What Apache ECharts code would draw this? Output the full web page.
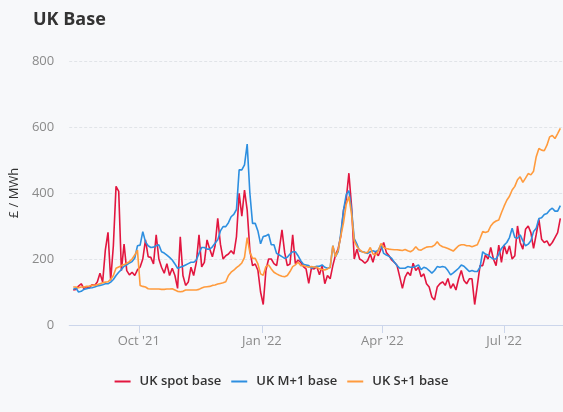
<!DOCTYPE html>
<html>
<head>
<meta charset="utf-8">
<script src="https://cdn.jsdelivr.net/npm/echarts@6/dist/echarts.min.js"></script>
<style>
html,body{margin:0;padding:0;background:#f7f8fa;}
#chart{width:563px;height:412px;}
</style>
</head>
<body>
<div id="chart"></div>
<script>
// Daily sampling: one reading every 2 days starting 13 Aug 2021
const startDate = Date.UTC(2021, 7, 13);
const stepDays = 2;
const axisStart = Date.UTC(2021, 7, 10);
const axisEnd = Date.UTC(2022, 7, 14);

const tickDates = ['2021-10-01', '2022-01-01', '2022-04-01', '2022-07-01'];
const tickLabels = ["Oct '21", "Jan '22", "Apr '22", "Jul '22"];
const seriesNames = ['UK spot base', 'UK M+1 base', 'UK S+1 base'];

const spotBase = [
106,108,118,125,110,116,112,122,120,130,
157,130,227,281,135,240,420,405,165,245,
165,152,160,150,167,176,200,258,207,205,
185,273,200,175,157,186,150,172,150,111,
267,150,120,130,175,150,190,273,176,190,
258,230,207,240,323,245,200,210,215,225,
215,268,399,330,409,348,227,180,185,166,
100,62,166,200,200,186,180,230,288,220,
180,185,273,186,197,190,177,170,126,172,
170,177,152,179,125,150,140,180,212,232,
270,348,380,460,360,200,230,200,195,187,
195,215,190,222,210,230,250,220,210,197,
190,180,146,111,145,160,150,187,165,175,
146,155,125,115,85,76,115,125,131,120,
141,111,125,106,140,165,135,125,140,140,
62,120,180,180,212,200,235,200,180,242,
190,242,215,240,200,210,300,250,230,290,
300,280,232,275,320,260,250,255,240,250,
265,280,323
];

const m1Base = [
108,112,100,102,108,110,112,113,115,118,
120,122,125,125,130,138,150,160,168,178,
182,188,192,203,240,242,283,252,240,235,
236,240,243,222,218,212,205,197,185,172,
175,178,182,186,190,190,197,217,235,235,
230,230,237,248,258,285,298,298,310,328,
335,350,470,470,485,548,400,308,308,285,
246,268,270,275,243,243,217,212,207,202,
205,215,222,222,210,195,184,182,180,172,
175,178,178,182,175,172,174,240,207,222,
280,348,395,407,350,262,245,224,222,220,
217,222,225,222,227,243,217,212,208,202,
190,180,172,172,172,177,175,175,178,182,
168,175,172,165,157,165,177,175,177,175,
165,152,158,165,172,182,178,170,162,165,
162,162,175,222,215,212,205,200,200,215,
232,242,250,265,293,265,263,273,255,240,
245,255,283,293,323,325,335,338,348,354,
345,345,362
];

const s1Base = [
115,115,113,115,115,117,118,120,120,122,
125,128,130,131,138,150,172,176,180,183,
187,192,200,212,227,120,117,115,110,109,
109,109,109,108,108,109,109,110,106,102,
101,102,106,106,106,106,106,108,112,115,
116,117,120,121,124,126,128,131,150,160,
166,174,180,188,205,265,220,202,202,185,
155,151,177,182,170,160,155,151,148,146,
150,162,177,182,190,180,180,177,175,177,
176,175,170,168,167,170,175,240,207,227,
270,310,365,389,335,255,238,228,222,219,
220,235,215,212,225,247,235,232,230,229,
228,228,227,226,229,225,222,227,237,228,
227,232,236,237,237,242,252,242,237,235,
232,228,224,232,240,243,243,240,240,237,
240,243,262,283,280,283,300,310,315,318,
340,360,378,390,409,420,440,449,432,445,
459,455,466,510,535,530,528,545,570,574,
565,580,596
];

const yTicks = [0, 200, 400, 600, 800];

const DAY = 86400000;
const dates = spotBase.map((_, i) => startDate + i * stepDays * DAY);
const pair = arr => arr.map((v, i) => [dates[i], v]);
const tickValues = tickDates.map(d => Date.parse(d + 'T00:00:00Z'));

const colors = ['#e2163f', '#2d8fe0', '#ff9b3d'];
const chart = echarts.init(document.getElementById('chart'), null, {renderer: 'canvas'});
const font = "'Open Sans', sans-serif";

chart.setOption({
  backgroundColor: '#f7f8fa',
  animation: false,
  color: colors,
  textStyle: {fontFamily: font},
  title: {
    text: 'UK Base',
    left: 28, top: 6,
    textStyle: {fontFamily: font, fontSize: 18, fontWeight: 'bold', color: '#333333'}
  },
  legend: {
    data: seriesNames,
    left: 'center',
    top: 370,
    icon: 'rect',
    itemWidth: 16,
    itemHeight: 2,
    itemGap: 10,
    textStyle: {fontFamily: font, fontSize: 13, fontWeight: 600, color: '#333333', padding: [0, 0, 0, 4]}
  },
  grid: {left: 67, right: 0, top: 61, bottom: 87, containLabel: false},
  xAxis: {
    type: 'value',
    min: axisStart,
    max: axisEnd,
    splitLine: {show: false},
    axisLine: {show: true, lineStyle: {color: '#ccd6eb', width: 1}},
    axisTick: {show: true, length: 8, lineStyle: {color: '#ccd6eb'}, customValues: tickValues},
    axisLabel: {
      customValues: tickValues,
      margin: 10,
      color: '#8a8a8a',
      fontFamily: font,
      fontSize: 13,
      formatter: function (v) {
        let best = 0, bd = Infinity;
        tickValues.forEach((t, k) => { const d = Math.abs(t - v); if (d < bd) { bd = d; best = k; } });
        return tickLabels[best];
      }
    }
  },
  yAxis: {
    type: 'value',
    min: yTicks[0],
    max: yTicks[yTicks.length - 1],
    interval: 200,
    name: '£ / MWh',
    nameLocation: 'middle',
    nameGap: 47,
    nameTextStyle: {fontFamily: font, fontSize: 13, color: '#333333'},
    axisLine: {show: false},
    axisTick: {show: false},
    axisLabel: {margin: 15, color: '#8a8a8a', fontFamily: font, fontSize: 13},
    splitLine: {show: true, showMinLine: false, lineStyle: {color: '#e1e4e8', type: [3, 2], width: 1}}
  },
  series: [
    {name: seriesNames[0], type: 'line', data: pair(spotBase), showSymbol: false, symbol: 'none', lineStyle: {width: 1.6, color: colors[0]}},
    {name: seriesNames[1], type: 'line', data: pair(m1Base), showSymbol: false, symbol: 'none', lineStyle: {width: 1.6, color: colors[1]}},
    {name: seriesNames[2], type: 'line', data: pair(s1Base), showSymbol: false, symbol: 'none', lineStyle: {width: 1.6, color: colors[2]}}
  ]
});
</script>
</body>
</html>
